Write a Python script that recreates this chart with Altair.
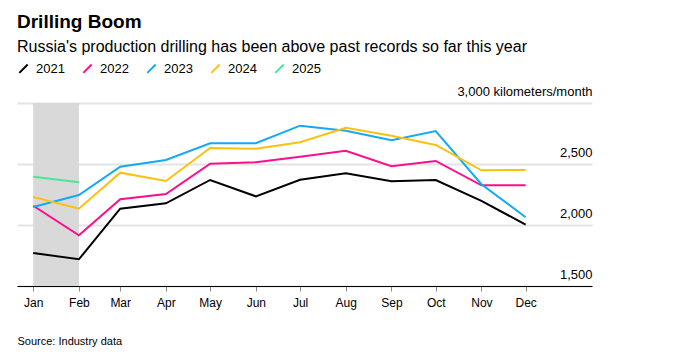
import altair as alt
import pandas as pd

months = ["2021-01-01", "2021-02-01", "2021-03-01", "2021-04-01", "2021-05-01", "2021-06-01",
          "2021-07-01", "2021-08-01", "2021-09-01", "2021-10-01", "2021-11-01", "2021-12-01"]
years = ["2021", "2022", "2023", "2024", "2025"]
v2021 = [1770, 1719, 2134, 2178, 2369, 2235, 2371, 2424, 2358, 2369, 2197, 2003]
v2022 = [2158, 1915, 2211, 2254, 2503, 2514, 2560, 2609, 2481, 2525, 2325, 2325]
v2023 = [2147, 2246, 2478, 2533, 2670, 2670, 2814, 2773, 2694, 2770, 2334, 2063]
v2024 = [2230, 2134, 2429, 2361, 2631, 2626, 2678, 2797, 2732, 2656, 2448, 2451]
v2025 = [2396, 2350]
colors = ["#000000", "#fc0f8c", "#13a9f5", "#fcc10f", "#45e896"]
shade_start = ["2021-01-01"]
shade_end = ["2021-02-01"]

rows = []
for yr, vals in zip(years, [v2021, v2022, v2023, v2024, v2025]):
    for m, v in zip(months, vals):
        rows.append({"month": m, "year": yr, "value": v})
df = pd.DataFrame(rows)
shade = pd.DataFrame({"start": shade_start, "end": shade_end})

FONT = "Liberation Sans"
x_dom = ["2020-12-21", "2022-01-15"]
tick_vals = [alt.DateTime(year=2021, month=i, date=1) for i in range(1, 13)]

xscale = alt.Scale(type="time", domain=x_dom)
yscale = alt.Scale(domain=[1500, 3000], nice=False)

band = alt.Chart(shade).mark_rect(color="#d9d9d9").encode(
    x=alt.X("start:T", scale=xscale),
    x2="end:T",
    y=alt.value(0),
    y2=alt.value(183),
)

lines = alt.Chart(df).mark_line(strokeWidth=2, clip=True).encode(
    x=alt.X("month:T", scale=xscale,
            axis=alt.Axis(format="%b", values=tick_vals,
                          grid=False, domainColor="#000000", domainWidth=1,
                          tickColor="#888888", tickSize=5, labelPadding=6,
                          labelFontSize=12, labelColor="#000000", labelFont=FONT,
                          labelAlign="center", labelFlush=False,
                          title="Source: Industry data", titleFont=FONT,
                          titleFontSize=11, titleFontWeight="normal", titleColor="#000000",
                          titleAnchor="start", titleAlign="left", titleX=0, titleY=49)),
    y=alt.Y("value:Q", scale=yscale,
            axis=alt.Axis(orient="right", values=[1500, 2000, 2500, 3000], domain=False,
                          ticks=False, labelPadding=0, labelAlign="right",
                          labelBaseline="alphabetic", labelOffset=-8, labelFontSize=13,
                          labelFont=FONT, labelColor="#000000",
                          labelExpr="datum.value == 3000 ? '3,000 kilometers/month' : format(datum.value, ',')",
                          gridColor="#e3e3e3", gridWidth=2, title=None)),
    color=alt.Color("year:N", scale=alt.Scale(domain=years, range=colors),
                    legend=alt.Legend(orient="none", legendX=0, legendY=-41,
                                      direction="horizontal", title=None,
                                      symbolType="M-1,1L1,-1", symbolSize=70,
                                      symbolStrokeWidth=2, labelFontSize=13,
                                      labelFont=FONT, labelColor="#000000",
                                      columnPadding=14, labelOffset=6)),
)

chart = alt.layer(band, lines).properties(
    width=575, height=183,
    title=alt.Title("Drilling Boom",
                    subtitle="Russia's production drilling has been above past records so far this year",
                    anchor="start", frame="group", font=FONT, fontSize=19, fontWeight="bold",
                    color="#000000", subtitleFont=FONT, subtitleFontSize=16,
                    subtitleColor="#000000", subtitlePadding=7, offset=7),
    padding={"left": 17, "top": 103, "right": 86, "bottom": 69},
    autosize=alt.AutoSizeParams(type="none"),
).configure_view(stroke=None)

chart.save("out.html", embed_options={"renderer": "svg", "actions": False})
